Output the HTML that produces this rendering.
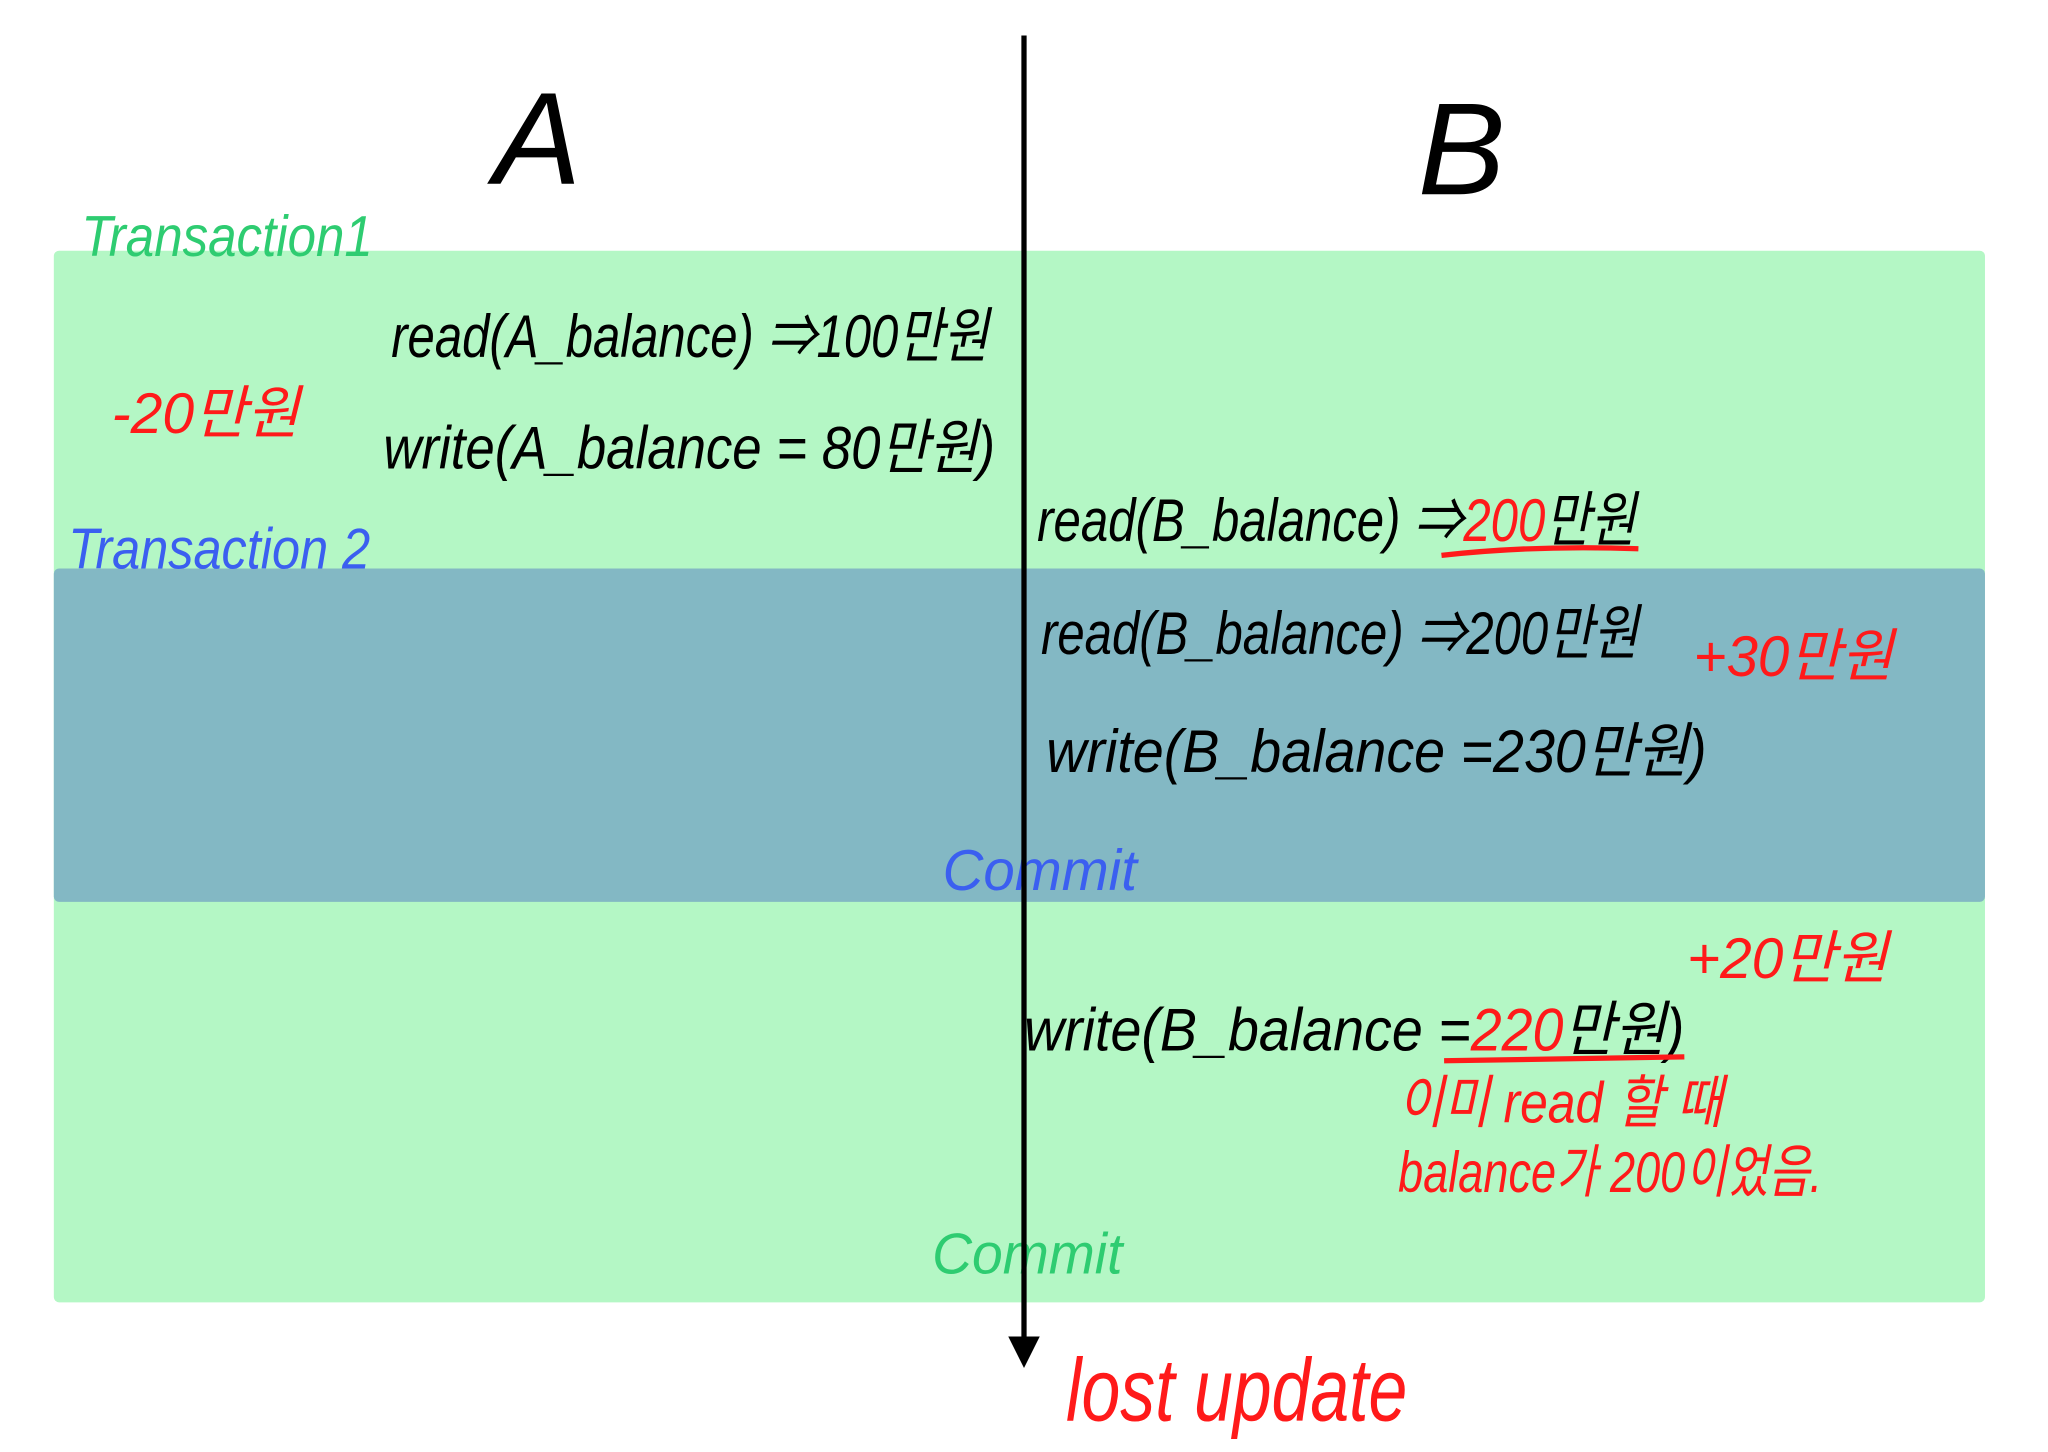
<!DOCTYPE html>
<html><head><meta charset="utf-8">
<style>
html,body{margin:0;padding:0;background:#fff;}
svg{display:block;}
text{font-family:"Liberation Sans","Noto Sans CJK KR",sans-serif;font-style:italic;}
</style></head>
<body>
<svg width="2048" height="1452" viewBox="0 0 1560 1106" preserveAspectRatio="none">
  <rect x="41" y="191" width="1471" height="801" rx="4" fill="#b4f7c5"/>
  <rect x="41" y="433" width="1471" height="254" rx="4" fill="#83b8c4"/>

  <text x="376" y="140" font-size="100" fill="#000" font-style="normal" font-weight="300">A</text>
  <text x="1080" y="148" font-size="100" fill="#000" font-style="normal" font-weight="300">B</text>

  <text x="62" y="195" font-size="44" fill="#2ecc71" textLength="222" lengthAdjust="spacingAndGlyphs">Transaction1</text>
  <text x="52" y="433" font-size="44" fill="#3b5ff0" textLength="230" lengthAdjust="spacingAndGlyphs">Transaction 2</text>

  <g fill="#000" font-size="46">
    <text x="298" y="272" textLength="455" lengthAdjust="spacingAndGlyphs">read(A_balance) ⇒100만원</text>
    <text x="292" y="357" textLength="466" lengthAdjust="spacingAndGlyphs">write(A_balance = 80만원)</text>
    <text x="790" y="412" textLength="456" lengthAdjust="spacingAndGlyphs">read(B_balance) ⇒<tspan fill="#ff1a1a">200</tspan>만원</text>
    <text x="793" y="498" textLength="455" lengthAdjust="spacingAndGlyphs">read(B_balance) ⇒200만원</text>
    <text x="797" y="588" textLength="503" lengthAdjust="spacingAndGlyphs">write(B_balance =230만원)</text>
    <text x="780" y="800" textLength="503" lengthAdjust="spacingAndGlyphs">write(B_balance =<tspan fill="#ff1a1a">220</tspan>만원)</text>
  </g>
  <path d="M1098 423 Q1170 415 1248 418" stroke="#ff1a1a" stroke-width="4" fill="none"/>
  <path d="M1100 808 L1283 805" stroke="#ff1a1a" stroke-width="4" fill="none"/>

  <g fill="#ff1a1a" font-size="44">
    <text x="85" y="330" textLength="143" lengthAdjust="spacingAndGlyphs">-20만원</text>
    <text x="1290" y="515" textLength="152" lengthAdjust="spacingAndGlyphs">+30만원</text>
    <text x="1285" y="745" textLength="153" lengthAdjust="spacingAndGlyphs">+20만원</text>
    <text x="1065" y="855" textLength="247" lengthAdjust="spacingAndGlyphs">이미 read 할 때</text>
    <text x="1065" y="908" textLength="323" lengthAdjust="spacingAndGlyphs">balance가 200이었음.</text>
    <text x="812" y="1082" font-size="68" textLength="260" lengthAdjust="spacingAndGlyphs">lost update</text>
  </g>

  <text x="718" y="678" font-size="44" fill="#3b5ff0" textLength="148" lengthAdjust="spacingAndGlyphs">Commit</text>
  <text x="710" y="970" font-size="44" fill="#2ecc71" textLength="145" lengthAdjust="spacingAndGlyphs">Commit</text>

  <line x1="780" y1="27" x2="780" y2="1020" stroke="#000" stroke-width="4"/>
  <polygon points="768,1018 792,1018 780,1042" fill="#000"/>
</svg>
</body></html>
